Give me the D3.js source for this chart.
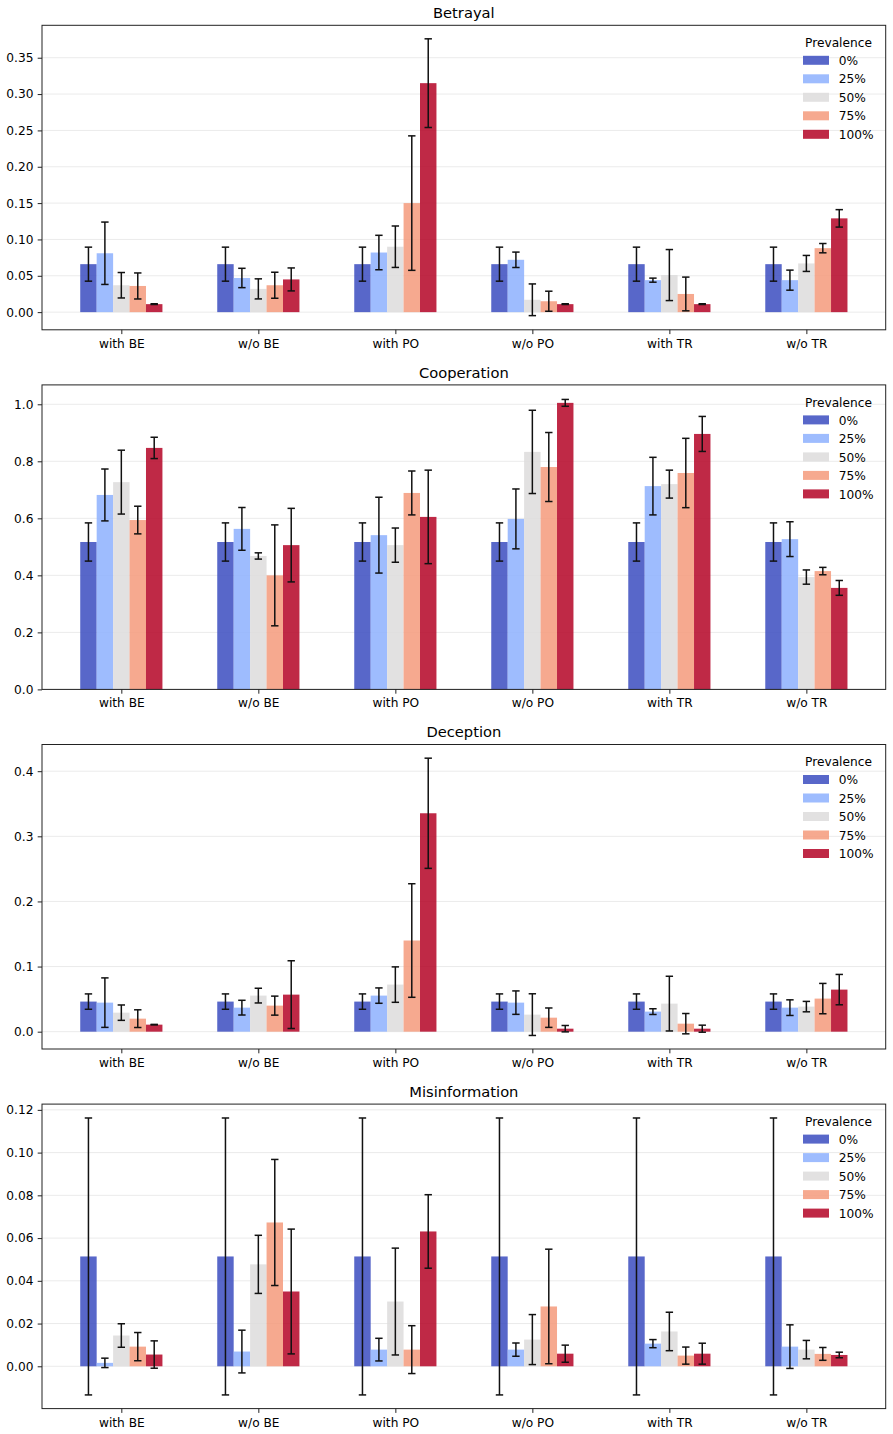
<!DOCTYPE html>
<meta charset="utf-8">
<style>
    html, body {
        margin: 0;
        padding: 0;
        background: #fff;
    }

    svg, svg text {
        font-family: 'DejaVu Sans', sans-serif;
    }

    .grid line {
        stroke: #ebebeb;
        stroke-width: 1px;
    }

    .frame {
        fill: none;
        stroke: #222;
        stroke-width: 1px;
    }

    .errbar {
        stroke: #111;
        stroke-width: 1.5px;
    }

    .axis text {
        font-family: 'DejaVu Sans', sans-serif;
        font-size: 12.2px;
        fill: #000;
    }

    .axis line {
        stroke: #222;
    }

    .title {
        font-size: 14.7px;
        text-anchor: middle;
    }

    .legend text {
        font-size: 12.2px;
    }
</style>
<html>
<head>
    <script src="https://d3js.org/d3.v7.min.js"></script>
</head>
<body>
<div id="chart"></div>

<script>
    // categories + series
    var categories = ["with BE", "w/o BE", "with PO", "w/o PO", "with TR", "w/o TR"];
    var prevalence = ["0%", "25%", "50%", "75%", "100%"];
    var colors = ["#3b4cc0", "#8db0fe", "#dddcdc", "#f49a7b", "#b40426"];
    var panelTitles = ["Betrayal", "Cooperation", "Deception", "Misinformation"];

    // rows = category, cols = prevalence
    var betrayalMean = [
        [0.066, 0.081, 0.037, 0.036, 0.011],
        [0.066, 0.047, 0.032, 0.037, 0.045],
        [0.066, 0.082, 0.090, 0.150, 0.315],
        [0.066, 0.072, 0.017, 0.015, 0.011],
        [0.066, 0.044, 0.051, 0.025, 0.011],
        [0.066, 0.044, 0.067, 0.088, 0.129]
    ];
    var betrayalErr = [
        [0.0234, 0.0429, 0.0175, 0.0179, 0.0005],
        [0.0234, 0.0133, 0.0138, 0.0179, 0.0158],
        [0.0234, 0.0237, 0.0285, 0.0925, 0.0610],
        [0.0234, 0.0106, 0.0218, 0.0138, 0.0005],
        [0.0234, 0.0028, 0.0351, 0.0232, 0.0005],
        [0.0234, 0.0138, 0.0110, 0.0064, 0.0120]
    ];

    var cooperationMean = [
        [0.517, 0.682, 0.727, 0.594, 0.847],
        [0.517, 0.563, 0.468, 0.400, 0.506],
        [0.517, 0.541, 0.506, 0.689, 0.605],
        [0.517, 0.598, 0.833, 0.780, 1.005],
        [0.517, 0.713, 0.720, 0.759, 0.896],
        [0.517, 0.527, 0.394, 0.415, 0.356]
    ];
    var cooperationErr = [
        [0.067, 0.091, 0.112, 0.0485, 0.0374],
        [0.067, 0.075, 0.011, 0.177, 0.129],
        [0.067, 0.133, 0.060, 0.077, 0.164],
        [0.067, 0.105, 0.146, 0.121, 0.012],
        [0.067, 0.101, 0.049, 0.1216, 0.0614],
        [0.067, 0.061, 0.025, 0.013, 0.026]
    ];

    var deceptionMean = [
        [0.0462, 0.0446, 0.0292, 0.0200, 0.0108],
        [0.0462, 0.0369, 0.0554, 0.0400, 0.0569],
        [0.0462, 0.0554, 0.0723, 0.1400, 0.3354],
        [0.0462, 0.0446, 0.0262, 0.0215, 0.0046],
        [0.0462, 0.0308, 0.0431, 0.0123, 0.0046],
        [0.0462, 0.0369, 0.0385, 0.0508, 0.0646]
    ];
    var deceptionErr = [
        [0.0118, 0.0380, 0.0118, 0.0136, 0.0004],
        [0.0118, 0.0113, 0.0113, 0.0146, 0.0520],
        [0.0118, 0.0118, 0.0272, 0.0872, 0.0846],
        [0.0118, 0.0180, 0.0320, 0.0149, 0.0049],
        [0.0118, 0.0044, 0.0420, 0.0156, 0.0054],
        [0.0118, 0.0120, 0.0080, 0.0233, 0.0233]
    ];

    var misinformationMean = [
        [0.0514, 0.0016, 0.0144, 0.0092, 0.0055],
        [0.0514, 0.0069, 0.0477, 0.0673, 0.0350],
        [0.0514, 0.0078, 0.0303, 0.0078, 0.0631],
        [0.0514, 0.0078, 0.0125, 0.0280, 0.0059],
        [0.0514, 0.0106, 0.0163, 0.0050, 0.0059],
        [0.0514, 0.0092, 0.0078, 0.0058, 0.0053]
    ];
    var misinformationErr = [
        [0.0648, 0.0022, 0.0055, 0.0066, 0.0064],
        [0.0648, 0.0100, 0.0136, 0.0295, 0.0292],
        [0.0648, 0.0053, 0.0250, 0.0112, 0.0172],
        [0.0648, 0.0031, 0.0117, 0.0268, 0.0040],
        [0.0648, 0.0019, 0.0090, 0.0040, 0.0049],
        [0.0648, 0.0102, 0.0043, 0.0030, 0.0013]
    ];

    // axis limits and ticks per panel
    var yLimits = [[-0.0243, 0.3946], [0, 1.068], [-0.0266, 0.441], [-0.0198, 0.1227]];
    var yTicks = [
        [0, 0.05, 0.10, 0.15, 0.20, 0.25, 0.30, 0.35],
        [0, 0.2, 0.4, 0.6, 0.8, 1.0],
        [0, 0.1, 0.2, 0.3, 0.4],
        [0, 0.02, 0.04, 0.06, 0.08, 0.10, 0.12]
    ];
    var yFormats = [".2f", ".1f", ".1f", ".2f"];

    var panels = [
        { mean: betrayalMean, err: betrayalErr },
        { mean: cooperationMean, err: cooperationErr },
        { mean: deceptionMean, err: deceptionErr },
        { mean: misinformationMean, err: misinformationErr }
    ];

    var W = 893, H = 1434;
    var left = 42, right = 885.7, plotH = 304.5, firstTop = 25.3, panelStep = 359.6;
    var barW = 0.12, capHalf = 3.7;

    var svg = d3.select("#chart").append("svg")
        .attr("width", W).attr("height", H);

    var x = d3.scalePoint().domain(categories).range([left, right]).padding(0.579);
    var step = x.step();

    panels.forEach(function (p, pi) {
        var top = firstTop + pi * panelStep;
        var bottom = top + plotH;
        var y = d3.scaleLinear().domain(yLimits[pi]).range([bottom, top]);

        var g = svg.append("g");

        // grid
        g.append("g").attr("class", "grid").selectAll("line")
            .data(yTicks[pi]).enter().append("line")
            .attr("x1", left).attr("x2", right)
            .attr("y1", function (d) { return y(d); })
            .attr("y2", function (d) { return y(d); });

        // flatten
        var rows = [];
        categories.forEach(function (c, ci) {
            prevalence.forEach(function (pv, j) {
                rows.push({ cat: c, j: j, v: p.mean[ci][j], e: p.err[ci][j] });
            });
        });

        var cx = function (d) { return x(d.cat) + (d.j - 2) * barW * step; };

        g.selectAll("rect.bar").data(rows).enter().append("rect")
            .attr("class", "bar")
            .attr("x", function (d) { return cx(d) - barW * step / 2; })
            .attr("width", barW * step)
            .attr("y", function (d) { return Math.min(y(d.v), y(0)); })
            .attr("height", function (d) { return Math.abs(y(0) - y(d.v)); })
            .attr("fill", function (d) { return colors[d.j]; })
            .attr("fill-opacity", 0.85);

        var eb = g.selectAll("g.eb").data(rows).enter().append("g").attr("class", "eb");
        eb.append("line").attr("class", "errbar")
            .attr("x1", cx).attr("x2", cx)
            .attr("y1", function (d) { return y(d.v - d.e); })
            .attr("y2", function (d) { return y(d.v + d.e); });
        eb.append("line").attr("class", "errbar")
            .attr("x1", function (d) { return cx(d) - capHalf; })
            .attr("x2", function (d) { return cx(d) + capHalf; })
            .attr("y1", function (d) { return y(d.v + d.e); })
            .attr("y2", function (d) { return y(d.v + d.e); });
        eb.append("line").attr("class", "errbar")
            .attr("x1", function (d) { return cx(d) - capHalf; })
            .attr("x2", function (d) { return cx(d) + capHalf; })
            .attr("y1", function (d) { return y(d.v - d.e); })
            .attr("y2", function (d) { return y(d.v - d.e); });

        // axes
        g.append("g").attr("class", "axis")
            .attr("transform", "translate(" + left + ",0)")
            .call(d3.axisLeft(y).tickValues(yTicks[pi]).tickFormat(d3.format(yFormats[pi]))
                .tickSize(4.3).tickPadding(4.3).tickSizeOuter(0))
            .call(function (a) { a.select(".domain").remove(); a.attr("font-family", null).attr("font-size", null); });

        g.append("g").attr("class", "axis")
            .attr("transform", "translate(0," + bottom + ")")
            .call(d3.axisBottom(x).tickSize(4.3).tickPadding(5).tickSizeOuter(0))
            .call(function (a) { a.select(".domain").remove(); a.attr("font-family", null).attr("font-size", null); });

        g.append("rect").attr("class", "frame")
            .attr("x", left).attr("y", top)
            .attr("width", right - left).attr("height", plotH);

        g.append("text").attr("class", "title")
            .attr("x", (left + right) / 2).attr("y", top - 7.3)
            .text(panelTitles[pi]);

        // legend
        var lg = g.append("g").attr("class", "legend");
        lg.append("text").attr("x", 838.5).attr("y", top + 21.8)
            .attr("text-anchor", "middle").text("Prevalence");
        var items = lg.selectAll("g.item").data(prevalence).enter().append("g").attr("class", "item")
            .attr("transform", function (d, i) { return "translate(0," + (top + 35 + i * 18.5) + ")"; });
        items.append("rect").attr("x", 803).attr("y", -4.5).attr("width", 26).attr("height", 9)
            .attr("fill", function (d, i) { return colors[i]; }).attr("fill-opacity", 0.85);
        items.append("text").attr("x", 838.7).attr("y", 4.6).text(function (d) { return d; });
    });
</script>
</body>
</html>
